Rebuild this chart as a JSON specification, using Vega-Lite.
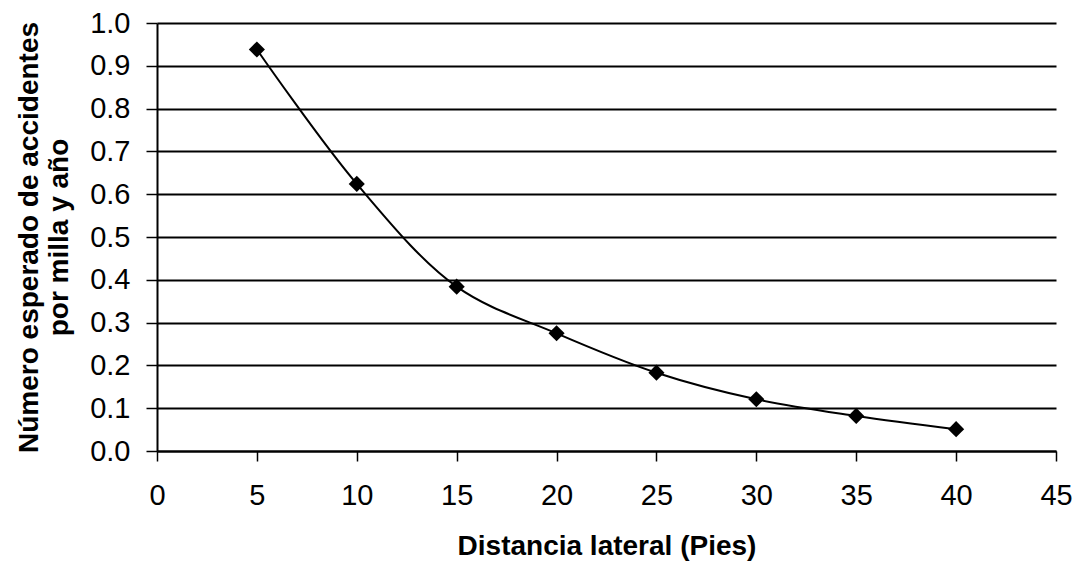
{
  "$schema": "https://vega.github.io/schema/vega-lite/v6.json",
  "width": 899,
  "height": 428,
  "autosize": "none",
  "padding": {"left": 157, "top": 23, "right": 22, "bottom": 114},
  "background": "white",
  "config": {"view": {"stroke": null}, "font": "Liberation Sans"},
  "data": {
    "values": [
      {"dist": 5, "n": 0.938},
      {"dist": 10, "n": 0.624},
      {"dist": 15, "n": 0.384},
      {"dist": 20, "n": 0.275},
      {"dist": 25, "n": 0.183},
      {"dist": 30, "n": 0.121},
      {"dist": 35, "n": 0.082},
      {"dist": 40, "n": 0.051}
    ]
  },
  "encoding": {
    "x": {
      "field": "dist",
      "type": "quantitative",
      "scale": {"domain": [0, 45], "nice": false, "zero": false},
      "axis": {
        "values": [0, 5, 10, 15, 20, 25, 30, 35, 40, 45],
        "grid": false,
        "domainColor": "black",
        "domainWidth": 2,
        "tickColor": "black",
        "tickWidth": 1.5,
        "tickSize": 10,
        "labelFontSize": 29,
        "labelColor": "black",
        "labelPadding": 20,
        "labelFlush": false,
        "labelOverlap": false,
        "title": "Distancia lateral (Pies)",
        "titleFontSize": 28,
        "titleFontWeight": "bold",
        "titleColor": "black",
        "titlePadding": 22
      }
    },
    "y": {
      "field": "n",
      "type": "quantitative",
      "scale": {"domain": [0, 1], "nice": false},
      "axis": {
        "values": [0, 0.1, 0.2, 0.3, 0.4, 0.5, 0.6, 0.7, 0.8, 0.9, 1.0],
        "format": ".1f",
        "grid": true,
        "gridColor": "black",
        "gridWidth": 2,
        "gridOpacity": 1,
        "domainColor": "black",
        "domainWidth": 2,
        "tickColor": "black",
        "tickWidth": 1.5,
        "tickSize": 11,
        "labelFontSize": 29,
        "labelColor": "black",
        "labelPadding": 16,
        "labelOverlap": false,
        "labelFlush": false,
        "title": ["Número esperado de accidentes", "por milla y año"],
        "titleFontSize": 28,
        "titleFontWeight": "bold",
        "titleColor": "black",
        "titleLineHeight": 30,
        "titlePadding": 16
      }
    }
  },
  "layer": [
    {
      "mark": {"type": "line", "interpolate": "catmull-rom", "color": "black", "strokeWidth": 2}
    },
    {
      "mark": {"type": "point", "shape": "diamond", "filled": true, "color": "black", "size": 260, "opacity": 1}
    }
  ]
}
